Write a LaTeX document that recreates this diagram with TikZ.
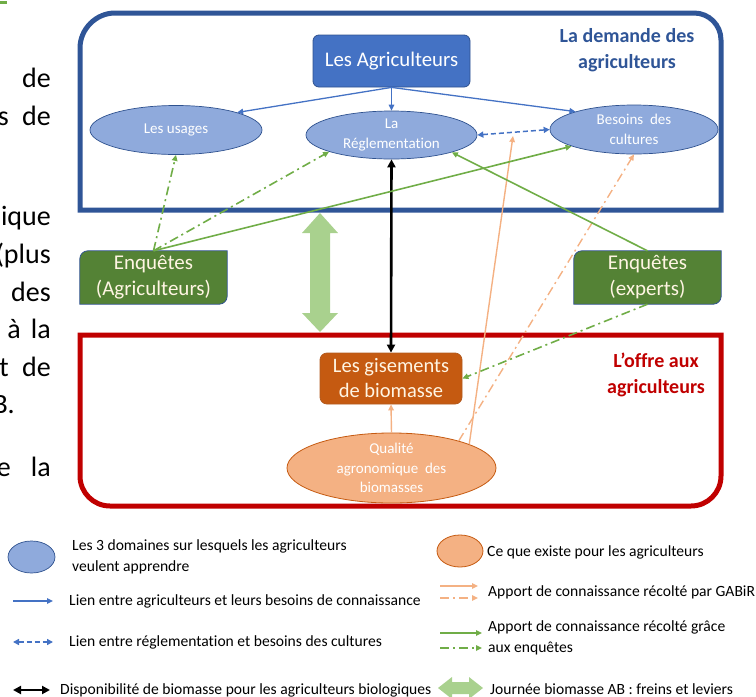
\documentclass[tikz,border=0pt]{standalone}
\usepackage{fontspec}
\setmainfont[Ligatures=NoCommon]{Carlito}
\usetikzlibrary{shapes.geometric,arrows.meta}
\pgfdeclarelayer{background}
\pgfsetlayers{background,main}
\definecolor{cBlueD}{HTML}{2F5597}
\definecolor{cBlueE}{HTML}{2F528F}
\definecolor{cBlue}{HTML}{4472C4}
\definecolor{cBlueL}{HTML}{8FAADC}
\definecolor{cGreenD}{HTML}{548235}
\definecolor{cGreen}{HTML}{70AD47}
\definecolor{cGreenL}{HTML}{A9D18E}
\definecolor{cRed}{HTML}{C00000}
\definecolor{cOrD}{HTML}{C55A11}
\definecolor{cOrE}{HTML}{B35A1F}
\definecolor{cOrL}{HTML}{F4B183}
\definecolor{cCream}{HTML}{FFF5E3}
\newcommand\diagshape[1]{%
  \filldraw[fill=cGreenD, draw=cBlueE, line width=0.8pt]
  ([yshift=-8pt]#1.north west) .. controls ([yshift=-3.6pt]#1.north west) and ([xshift=3.6pt]#1.north west) .. ([xshift=8pt]#1.north west)
  -- (#1.north east) -- ([yshift=8pt]#1.south east)
  .. controls ([yshift=3.6pt]#1.south east) and ([xshift=-3.6pt]#1.south east) .. ([xshift=-8pt]#1.south east)
  -- (#1.south west) -- cycle;}
\begin{document}
\begin{tikzpicture}[x=1pt,y=-1pt,
  dom/.style={ellipse, fill=cBlueL, draw=cBlueE, line width=0.7pt, inner sep=0pt, text=white, align=center, font=\fontsize{15}{20}\selectfont},
  qualst/.style={ellipse, fill=cOrL, draw=cOrD, line width=0.8pt, inner sep=0pt, text=white, align=center, font=\fontsize{15}{19.5}\selectfont},
  agrbox/.style={rectangle, rounded corners=6pt, fill=cBlue, draw=cBlueE, line width=0.8pt, text=white, inner sep=0pt, font=\fontsize{20.8}{24}\selectfont},
  enqbox/.style={rectangle, inner sep=0pt, text=cCream, align=center, font=\fontsize{21}{26}\selectfont},
  gisbox/.style={rectangle, rounded corners=7pt, fill=cOrD, draw=cOrE, line width=0.8pt, inner sep=0pt, text=cCream, align=center, font=\fontsize{20.5}{25}\selectfont},
  titlest/.style={inner sep=0pt, align=center, font=\bfseries\fontsize{20}{26}\selectfont},
  lgtext/.style={anchor=west, inner sep=0pt, align=left, font=\fontsize{15.6}{21}\selectfont},
  lefttext/.style={anchor=base east, inner sep=0pt, font=\fontsize{28}{34}\selectfont},
  bluearr/.style={draw=cBlue, line width=1.3pt, -{Triangle[length=6pt,width=5.5pt]}},
  bluedash/.style={draw=cBlue, line width=1.5pt, dash pattern=on 5pt off 3pt, {Triangle[length=6pt,width=6pt]}-{Triangle[length=6pt,width=6pt]}},
  blackarr/.style={draw=black, line width=2.6pt, {Triangle[length=8pt,width=8pt]}-{Triangle[length=8pt,width=8pt]}},
  orarr/.style={draw=cOrL, line width=1.4pt, -{Triangle[length=6pt,width=5.5pt]}},
  grarr/.style={draw=cGreen, line width=1.6pt, -{Triangle[length=6pt,width=5.5pt]}},
  dashdot/.style={dash pattern=on 9pt off 4pt on 2pt off 4pt},
  bigarr/.style={fill=cGreenL}
]
\useasboundingbox (0,0) rectangle (756,697);

% cut-off text at the left edge
\begin{scope}
\clip (0,0) rectangle (60,697);
\node[lefttext] (l1) at (51,87) {de};
\node[lefttext] (l2a) at (9,125) {s};
\node[lefttext] (l2b) at (51,125) {de};
\node[lefttext] (l3) at (51,225) {ique};
\node[lefttext] (l4) at (51,263) {(plus};
\node[lefttext] (l5) at (51,301) {des};
\node[lefttext] (l6a) at (21,338) {à};
\node[lefttext] (l6b) at (51,338) {la};
\node[lefttext] (l7a) at (9,376) {et};
\node[lefttext] (l7b) at (51,376) {de};
\node[lefttext] (l8) at (15,413) {B.};
\node[lefttext] (l9a) at (11,476) {e};
\node[lefttext] (l9b) at (51,476) {la};
\end{scope}
\draw[cGreen, line width=2.5pt] (0,2.5) -- (7,2.5);

% frames
\draw[cBlueD, line width=5pt] (80,210) -- (80,48) .. controls (80,29) and (96,13) .. (115,13) -- (694,13) .. controls (709,13) and (721,25) .. (721,40) -- (721,210) -- cycle;
\draw[cRed, line width=5pt] (80,335) -- (721,335) -- (721,476) .. controls (721,492.6) and (707.6,506) .. (691,506) -- (110,506) .. controls (93.4,506) and (80,492.6) .. (80,476) -- cycle;

\node[titlest, text=cBlueD] (tdem) at (627,50) {La demande des\\agriculteurs};
\node[titlest, text=cRed] (toff) at (656,374.5) {L’offre aux\\agriculteurs};

% nodes
\node[agrbox, minimum width=157pt, minimum height=52pt] (agr) at (391.5,61) {Les Agriculteurs};
\node[dom, minimum width=172pt, minimum height=49pt] (usa) at (176,130) {Les usages};
\node[dom, minimum width=171pt, minimum height=48pt] (regl) at (391.5,135) {La\\Réglementat\kern0pt ion};
\node[dom, minimum width=168pt, minimum height=49pt] (bes) at (634,129.5) {Besoins~ des\\cultures};
\node[enqbox, minimum width=147pt, minimum height=53pt] (ea) at (153.5,277.5) {Enquêtes\\(Agriculteurs)};
\node[enqbox, minimum width=147pt, minimum height=53pt] (ee) at (647.5,277.5) {Enquêtes\\(experts)};
\begin{pgfonlayer}{background}
\diagshape{ea}
\diagshape{ee}
\end{pgfonlayer}
\node[gisbox, minimum width=142pt, minimum height=51pt] (gis) at (391,378.5) {Les gisements\\de biomasse};
\node[qualst, minimum width=209pt, minimum height=64pt] (qual) at (391.5,468) {Qualité\\agronomique~ des\\biomasses};

% big light green double arrow
\fill[bigarr] (320,213) -- (338,233) -- (330,233) -- (330,313) -- (338,313) -- (320,332) -- (302,313) -- (310,313) -- (310,233) -- (302,233) -- cycle;

% connectors
\draw[bluearr] (agr.south) -- (usa.16);
\draw[bluearr] (agr.south) -- (regl.north);
\draw[bluearr] (agr.south) -- (bes.163);
\draw[bluedash] (regl.east) -- (bes.west);
\draw[blackarr] (regl.south) -- (gis.north);
\draw[orarr] (qual.north) -- (gis.south);
\coordinate (o1) at (513,136);
\draw[orarr] (qual.17) -- (o1);
\draw[orarr, dashdot] (qual.22) -- (bes.south);
\draw[grarr, dashdot] (ea.north) -- (usa.south);
\draw[grarr, dashdot] (ea.north) -- (regl.195);
\draw[grarr] (ea.north) -- (bes.195);
\draw[grarr] (ee.north) -- (regl.344);
\draw[grarr, dashdot] (ee.south) -- (gis.east);

% legend
\node[dom, minimum width=47pt, minimum height=32pt] (lg1) at (31.5,557) {};
\node[lgtext] (lt1) at (72,556.5) {Les 3 domaines sur lesquels les agriculteurs\\veulent apprendre};
\coordinate (la1) at (13,601); \coordinate (lb1) at (53,601);
\draw[bluearr] (la1) -- (lb1);
\node[lgtext] (lt2) at (69,601) {Lien entre agriculteurs et leurs besoins de connaissance};
\coordinate (la2) at (13,642); \coordinate (lb2) at (53,642);
\draw[bluedash] (la2) -- (lb2);
\node[lgtext] (lt3) at (69,642) {Lien entre réglementat\kern0pt ion et besoins des cultures};
\coordinate (la3) at (13,690); \coordinate (lb3) at (50,690);
\draw[blackarr, line width=2pt] (la3) -- (lb3);
\node[lgtext] (lt4) at (60,690) {Disponibilité de biomasse pour les agriculteurs biologiques};

\node[qualst, minimum width=46pt, minimum height=32pt] (lg2) at (460,551) {};
\node[lgtext] (lt5) at (487,552) {Ce que existe pour les agriculteurs};
\coordinate (la5) at (440,586); \coordinate (lb5) at (478,586);
\draw[orarr] (la5) -- (lb5);
\coordinate (la6) at (440,598); \coordinate (lb6) at (478,598);
\draw[orarr, dashdot] (la6) -- (lb6);
\node[lgtext] (lt6) at (488,592) {Apport de connaissance récolté par GABiR};
\coordinate (la7) at (440,633); \coordinate (lb7) at (482,633);
\draw[grarr] (la7) -- (lb7);
\coordinate (la8) at (440,648); \coordinate (lb8) at (482,648);
\draw[grarr, dashdot] (la8) -- (lb8);
\node[lgtext] (lt7) at (488,638) {Apport de connaissance récolté grâce\\aux enquêtes};
\fill[bigarr] (438,688) -- (452,677) -- (452,682) -- (469,682) -- (469,677) -- (483,688) -- (469,699) -- (469,694) -- (452,694) -- (452,699) -- cycle;
\node[lgtext] (lt8) at (490,689) {Journée biomasse AB : freins et leviers};
\end{tikzpicture}
\end{document}
